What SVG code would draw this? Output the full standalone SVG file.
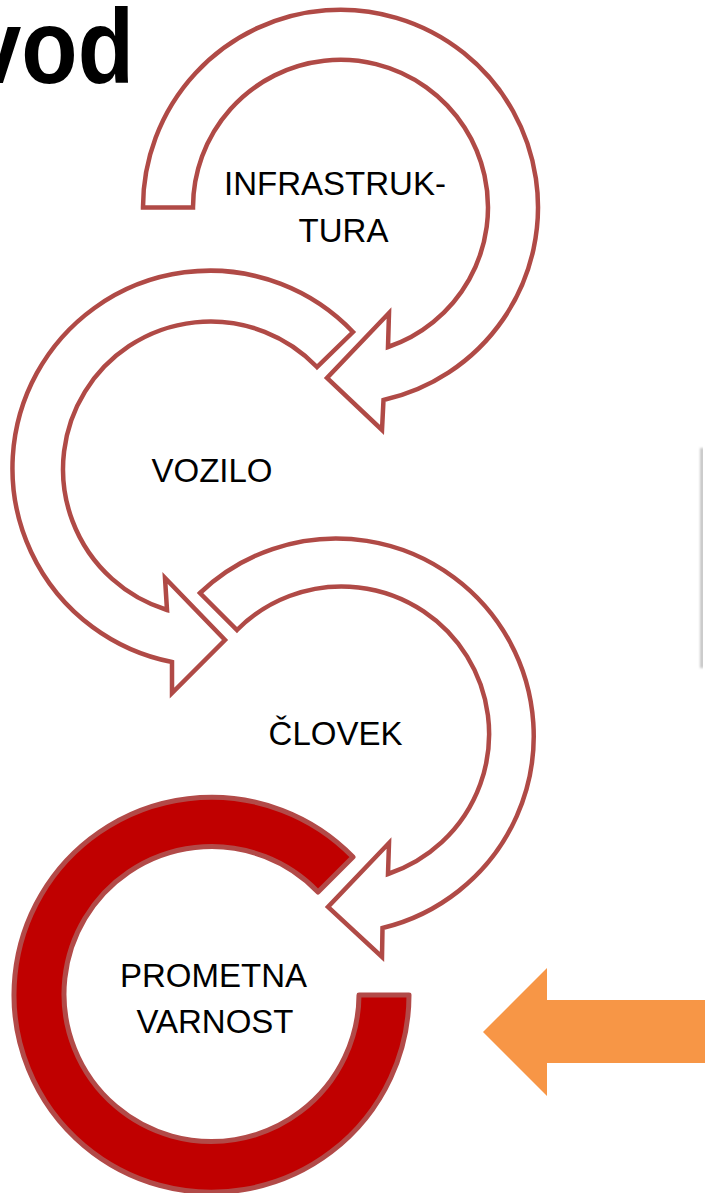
<svg xmlns="http://www.w3.org/2000/svg" width="705" height="1193" viewBox="0 0 705 1193">
  <style>
    .ring { fill: #FFFFFF; stroke: #B04A46; stroke-width: 4.5; stroke-linejoin: miter; }
    .ring-solid { fill: #C00000; stroke: #B24A48; stroke-width: 5; stroke-linejoin: round; }
    .label { font-family: "Liberation Sans", Arial, sans-serif; font-size: 33px; fill: #000000; text-anchor: middle; }
    .title { font-family: "Liberation Sans", Arial, sans-serif; font-size: 106px; font-weight: bold; fill: #000000; }
  </style>
  <defs>
    <filter id="soft" x="-50%" y="-5%" width="200%" height="110%">
      <feGaussianBlur stdDeviation="1.2"/>
    </filter>
  </defs>

  <rect x="0" y="0" width="705" height="1193" fill="#FFFFFF"/>

  <!-- slide title, running off the left edge -->
  <g id="title">
    <text class="title" x="-30" y="83" textLength="164" lengthAdjust="spacingAndGlyphs">vod</text>
  </g>

  <!-- edge of a shadowed panel on the right -->
  <g id="panel-edge">
    <rect x="700" y="448" width="4" height="220" fill="#C8C8C8" filter="url(#soft)"/>
    <rect x="703" y="446" width="2" height="224" fill="#FFFFFF"/>
  </g>

  <!-- step 1: infrastructure -->
  <g id="node-infrastruktura">
    <path class="ring" d="M 143,207.5 A 197.5 197.5 0 1 1 383.5,400 L 382,430 L 327,378 L 389,313 L 388,347 A 147.5 147.5 0 1 0 193,207.5 Z"/>
    <text class="label" x="335" y="195">INFRASTRUK-</text>
    <text class="label" x="343.5" y="242">TURA</text>
  </g>

  <!-- step 2: vehicle -->
  <g id="node-vozilo">
    <path class="ring" d="M 353,332 A 197.5 197.5 0 1 0 172,662 L 172,693 L 225,640 L 165,578 L 167,610 A 147.5 147.5 0 1 1 317,367 Z"/>
    <text class="label" x="212" y="482">VOZILO</text>
  </g>

  <!-- step 3: human -->
  <g id="node-clovek">
    <path class="ring" d="M 200,593 A 197.5 197.5 0 1 1 382.5,928 L 382,957 L 328,907 L 389,843 L 388,874 A 147.5 147.5 0 1 0 237,630 Z"/>
    <text class="label" x="335.5" y="745">ČLOVEK</text>
  </g>

  <!-- result: traffic safety -->
  <g id="node-prometna-varnost">
    <path class="ring-solid" d="M 353,857 A 197.5 197.5 0 1 0 409,995 L 359,995 A 147.5 147.5 0 1 1 318,892 Z"/>
    <text class="label" x="213.5" y="987">PROMETNA</text>
    <text class="label" x="215" y="1033">VARNOST</text>
  </g>

  <!-- incoming arrow -->
  <g id="connectors">
    <polygon points="483,1032 547,968 547,1000 705,1000 705,1063 547,1063 547,1096" fill="#F79646"/>
  </g>
</svg>
